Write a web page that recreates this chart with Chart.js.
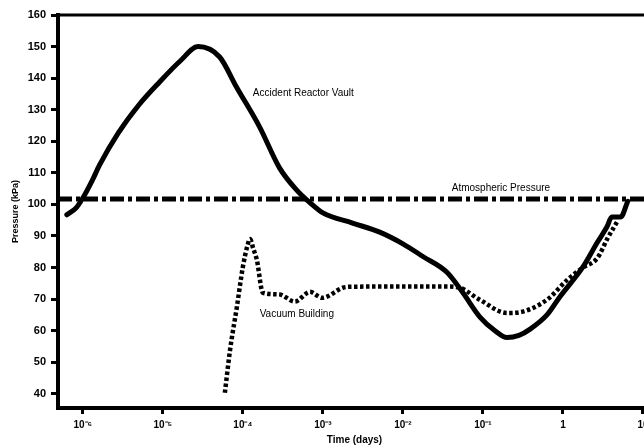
<!DOCTYPE html>
<html>
<head>
<meta charset="utf-8">
<script src="https://cdn.jsdelivr.net/npm/chart.js@4/dist/chart.umd.min.js"></script>
<style>
  html, body { margin: 0; padding: 0; background: #fff; overflow: hidden; }
</style>
</head>
<body>
<canvas id="chart" width="670" height="448"></canvas>
<script>
// time, stored as powers of ten (days)
const vaultLogT = [-6.2, -6.08, -6.0, -5.88, -5.79, -5.56, -5.3, -5.04, -4.78, -4.56, -4.29, -4.08, -3.79, -3.54, -3.33, -3.16, -3.0, -2.63, -2.29, -2.0, -1.75, -1.45, -1.25, -1.04, -0.85, -0.7, -0.55, -0.41, -0.2, -0.04, 0.25, 0.43, 0.55, 0.61, 0.72, 0.81];
const vaultP    = [96.7, 99, 102, 107.7, 112.5, 122.5, 131.5, 138.8, 145.5, 150, 146.7, 137.2, 124.5, 111.5, 104.6, 100.5, 97.3, 94.1, 91.2, 87.5, 83.5, 78.5, 72, 64.4, 60, 57.8, 58.5, 60.5, 65, 70.7, 80.2, 88, 92.9, 96, 96, 101];

const vacuumLogT = [-4.225, -4.16, -4.075, -4.0, -3.94, -3.91, -3.87, -3.825, -3.75, -3.55, -3.35, -3.16, -3.01, -2.75, -2.66, -2.0, -1.45, -1.29, -1.04, -0.7, -0.55, -0.2, 0.05, 0.25, 0.43, 0.56, 0.675];
const vacuumP    = [40.3, 53.9, 67.5, 80.2, 87.2, 89, 86, 82.4, 72, 71.5, 69.2, 72.3, 70.4, 73.6, 73.9, 74, 74, 73.6, 69.8, 65.6, 65.8, 69.8, 76, 80, 83, 89.4, 94.4];

const atmLogT = [-6.31, 1.1];
const atmP    = [101.7, 101.7];

const xTickExp = [-6, -5, -4, -3, -2, -1, 0, 1];
const xTickLabels = ["10\u207B\u2076", "10\u207B\u2075", "10\u207B\u2074", "10\u207B\u00B3", "10\u207B\u00B2", "10\u207B\u00B9", "1", "10"];
const yTicks = [40, 50, 60, 70, 80, 90, 100, 110, 120, 130, 140, 150, 160];

const noteText = ["Accident Reactor Vault", "Atmospheric Pressure", "Vacuum Building"];
const noteLogT = [-3.875, -1.39, -3.79];
const noteP    = [135.3, 105.2, 65.3];

const pts = (lt, p) => lt.map((e, i) => ({ x: Math.pow(10, e), y: p[i] }));

const notes = {
  id: "notes",
  afterDatasetsDraw(chart) {
    const { ctx, scales: { x, y }, chartArea } = chart;
    ctx.save();
    // top frame line
    ctx.strokeStyle = "#000";
    ctx.lineWidth = 3;
    ctx.beginPath();
    ctx.moveTo(chartArea.left, chartArea.top);
    ctx.lineTo(chartArea.right + 20, chartArea.top);
    ctx.stroke();
    ctx.fillStyle = "#000";
    ctx.font = "10px 'Liberation Sans', Arial, sans-serif";
    ctx.textBaseline = "middle";
    ctx.textAlign = "left";
    noteText.forEach((t, i) => {
      ctx.fillText(t, x.getPixelForValue(Math.pow(10, noteLogT[i])), y.getPixelForValue(noteP[i]));
    });
    ctx.restore();
  }
};

const font = "'Liberation Sans', Arial, sans-serif";

new Chart(document.getElementById("chart"), {
  type: "line",
  data: {
    datasets: [
      {
        label: "Accident Reactor Vault",
        data: pts(vaultLogT, vaultP),
        borderColor: "#000",
        borderWidth: 5,
        borderCapStyle: "round",
        cubicInterpolationMode: "monotone",
        pointRadius: 0,
      },
      {
        label: "Vacuum Building",
        data: pts(vacuumLogT, vacuumP),
        borderColor: "#000",
        borderWidth: 4.5,
        borderDash: [3.5, 2.5],
        cubicInterpolationMode: "monotone",
        pointRadius: 0,
      },
      {
        label: "Atmospheric Pressure",
        data: pts(atmLogT, atmP),
        borderColor: "#000",
        borderWidth: 5,
        borderDash: [14, 4, 4, 4],
        pointRadius: 0,
      },
    ],
  },
  options: {
    responsive: false,
    animation: false,
    layout: { padding: { top: 15, right: 19, left: 0, bottom: 0 } },
    plugins: { legend: { display: false }, tooltip: { enabled: false } },
    scales: {
      x: {
        type: "logarithmic",
        min: Math.pow(10, -6.31),
        max: Math.pow(10, 1.1),
        afterBuildTicks(scale) {
          scale.ticks = xTickExp.map(e => ({ value: Math.pow(10, e) }));
        },
        afterFit(scale) { scale.height = 40; },
        ticks: {
          autoSkip: false,
          maxRotation: 0,
          padding: 5,
          color: "#000",
          font: { size: 10, weight: "bold", family: font },
          callback: (v, i) => xTickLabels[i],
        },
        grid: { drawOnChartArea: false, drawTicks: true, tickLength: 6, tickWidth: 3, tickColor: "#000" },
        border: { display: true, width: 4, color: "#000" },
        title: {
          display: true,
          text: "Time (days)",
          color: "#000",
          padding: { top: 0, bottom: 1.5 },
          font: { size: 10, weight: "bold", family: font },
        },
      },
      y: {
        min: 35.5,
        max: 160,
        afterBuildTicks(scale) {
          scale.ticks = yTicks.map(v => ({ value: v }));
        },
        afterFit(scale) { scale.width = 58; },
        ticks: {
          padding: 5,
          color: "#000",
          font: { size: 11, weight: "bold", family: font },
        },
        grid: { drawOnChartArea: false, drawTicks: true, tickLength: 7, tickWidth: 3, tickColor: "#000" },
        border: { display: true, width: 4, color: "#000" },
        title: {
          display: true,
          text: "Pressure (kPa)",
          color: "#000",
          padding: { top: 10, bottom: 0 },
          font: { size: 9, weight: "bold", family: font },
        },
      },
    },
  },
  plugins: [notes],
});
</script>
</body>
</html>
